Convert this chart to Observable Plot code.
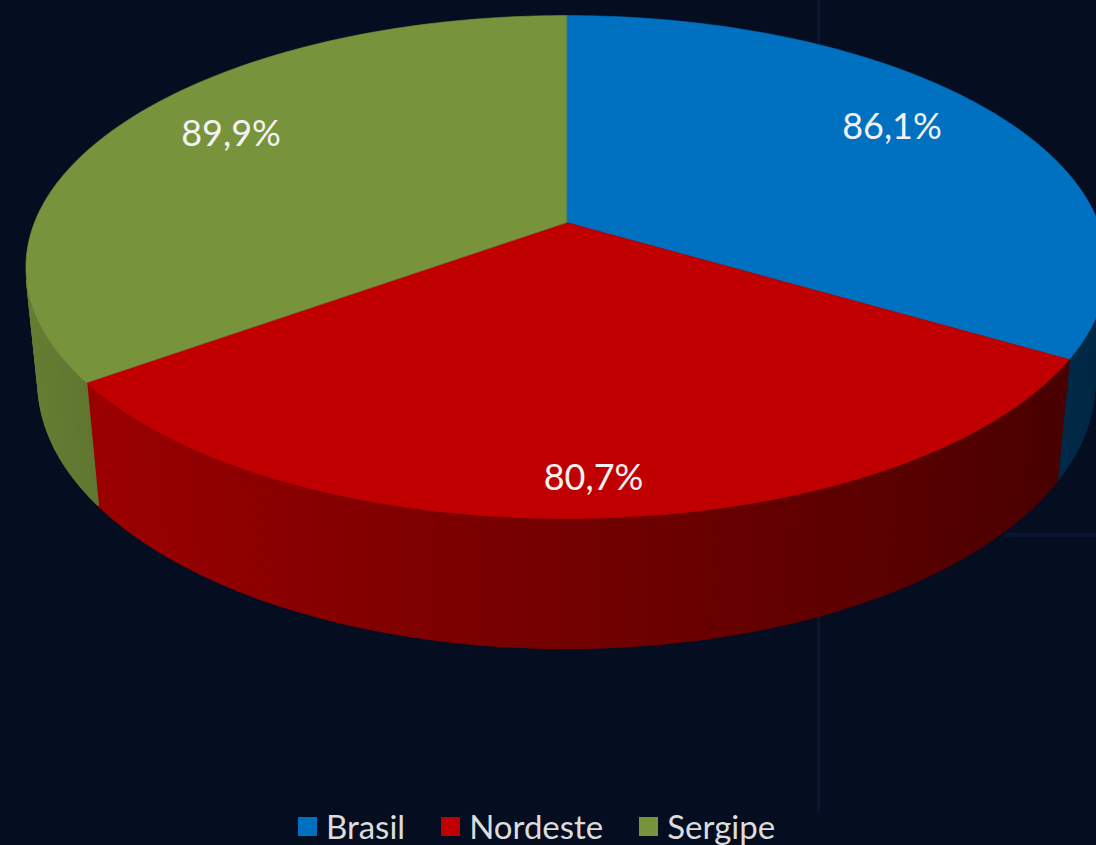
<!DOCTYPE html>
<html>
<head>
<meta charset="utf-8">
<script src="https://cdn.jsdelivr.net/npm/d3@7"></script>
<script src="https://cdn.jsdelivr.net/npm/@observablehq/plot@0.6"></script>
<style>
html, body { margin: 0; padding: 0; background: #050d21; width: 1096px; height: 845px; overflow: hidden; }
#wrap { position: relative; width: 1096px; height: 845px; }
.gl { position: absolute; background: #0a1530; }
#chart { position: absolute; left: 0; top: 0; }
#legend { position: absolute; top: 806px; left: 298px; display: flex; align-items: center; font-family: Lato, sans-serif; font-size: 33px; color: #dcdcdc; white-space: nowrap; }
.item { display: flex; align-items: center; margin-right: 36px; }
.sw { width: 19px; height: 19px; margin-right: 9px; display: inline-block; }
</style>
</head>
<body>
<div id="wrap">
  <div class="gl" style="left:817px; top:0; width:3px; height:812px;"></div>
  <div class="gl" style="left:1004px; top:533px; width:92px; height:4px;"></div>
  <div id="chart"></div>
  <div id="legend"></div>
</div>
<script>
// ---- data ----
const categories = ["Brasil", "Nordeste", "Sergipe"];
const values = [86.1, 80.7, 89.9];
const valueLabels = ["86,1%", "80,7%", "89,9%"];
const palette = ["#0070C0", "#C00000", "#77933C"];

// ---- 3D pie geometry (perspective camera) ----
const tilt = 27.25 * Math.PI / 180;
const dist = 5.02;
const thick = 0.246;
function project(theta, r, z) {
  const X = r * Math.sin(theta), Y = r * Math.cos(theta);
  const depth = dist + Y * Math.cos(tilt) - z * Math.sin(tilt);
  const s = dist / depth;
  return { x: X * s, y: (Y * Math.sin(tilt) + z * Math.cos(tilt)) * s };
}
function shade(color, k) {
  const c = d3.rgb(color);
  return d3.rgb(c.r * k, c.g * k, c.b * k).formatHex();
}

const arcs = d3.pie().sort(null).startAngle(0).endAngle(2 * Math.PI)(values);
const visLimit = -1 / (dist * Math.cos(tilt)); // wall faces camera where cos(theta) < visLimit
const visA = Math.acos(visLimit), visB = 2 * Math.PI - visA;
const step = Math.PI / 180;

const wallPts = [];
const topPts = [];
const labelData = [];
arcs.forEach((a, i) => {
  // outer wall strips
  const s0 = Math.max(a.startAngle, visA), s1 = Math.min(a.endAngle, visB);
  let n = 0;
  for (let t = s0; t < s1 - 1e-9; t += step) {
    const t1 = Math.min(t + step, s1);
    const tm = (t + t1) / 2;
    const col = shade(palette[i], 0.6 - 0.26 * Math.sin(tm));
    const id = `w${i}-${n++}`;
    [[t, 0], [t1, 0], [t1, -thick], [t, -thick]].forEach(([tt, z]) => {
      const p = project(tt, 1, z);
      wallPts.push({ id, x: p.x, y: p.y, color: col });
    });
  }
  // top face
  const c = project(0, 0, 0);
  topPts.push({ id: categories[i], x: c.x, y: c.y, color: palette[i] });
  const m = Math.max(2, Math.ceil((a.endAngle - a.startAngle) / (Math.PI / 180)));
  for (let j = 0; j <= m; j++) {
    const t = a.startAngle + (a.endAngle - a.startAngle) * j / m;
    const p = project(t, 1, 0);
    topPts.push({ id: categories[i], x: p.x, y: p.y, color: palette[i] });
  }
  // label
  const mid = (a.startAngle + a.endAngle) / 2;
  const r = 0.75 + 0.166 * Math.max(0, -Math.cos(mid));
  const lp = project(mid, r, 0);
  labelData.push({ x: lp.x, y: lp.y, text: valueLabels[i] });
});

const chart = Plot.plot({
  width: 1096,
  height: 806,
  margin: 0,
  style: { background: "transparent", overflow: "hidden" },
  x: { domain: [-1, 1], range: [566 - 532, 566 + 532], axis: null },
  y: { domain: [-1, 1], range: [222 + 532, 222 - 532], axis: null },
  color: { type: "identity" },
  marks: [
    Plot.line(wallPts, { x: "x", y: "y", z: "id", fill: "color", stroke: "color", strokeWidth: 1.6, strokeLinejoin: "miter", curve: "linear-closed" }),
    Plot.line(topPts, { x: "x", y: "y", z: "id", fill: "color", stroke: "color", strokeWidth: 0.6, curve: "linear-closed" }),
    Plot.text(labelData, { x: "x", y: "y", text: "text", fill: "#f2f2f2", fontSize: 36, fontFamily: "Lato", dy: -10 })
  ]
});
document.getElementById("chart").appendChild(chart);

// legend
const legend = document.getElementById("legend");
categories.forEach((name, i) => {
  const item = document.createElement("div");
  item.className = "item";
  const sw = document.createElement("span");
  sw.className = "sw";
  sw.style.background = palette[i];
  const tx = document.createElement("span");
  tx.textContent = name;
  item.appendChild(sw);
  item.appendChild(tx);
  legend.appendChild(item);
});
</script>
</body>
</html>
